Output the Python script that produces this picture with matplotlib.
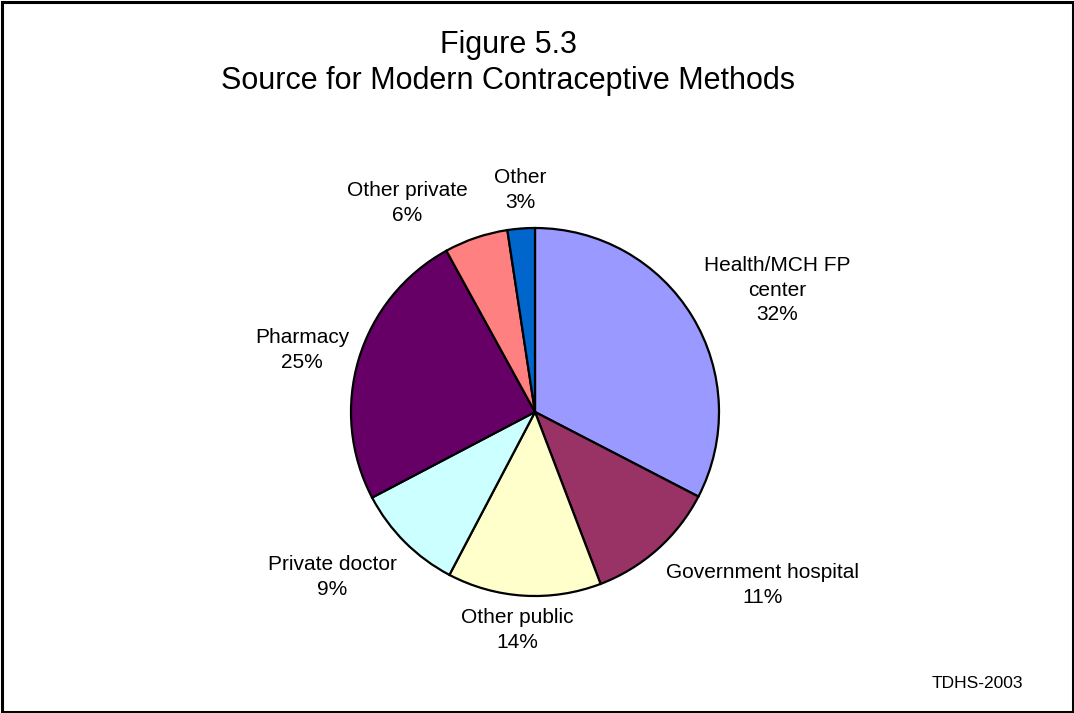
import matplotlib.pyplot as plt
from matplotlib.patches import Rectangle

plt.rcParams['font.family'] = ['Liberation Sans', 'DejaVu Sans']

# slices, clockwise from 12 o'clock
sources = ['Health/MCH FP\ncenter', 'Government hospital', 'Other public',
           'Private doctor', 'Pharmacy', 'Other private', 'Other']
shares = [32.6, 11.6, 13.5, 9.6, 24.7, 5.6, 2.4]
pct_labels = ['32%', '11%', '14%', '9%', '25%', '6%', '3%']
colors = ['#9999FF', '#993366', '#FFFFCC', '#CCFFFF', '#660066', '#FF8080', '#0066CC']

# label centres in pixels (x, y from top)
label_pos = [(777, 290), (763, 585), (517, 630), (332, 577),
             (302, 350), (407, 203), (520, 190)]

W, H = 1074, 713
fig = plt.figure(figsize=(W / 100, H / 100), dpi=100)
ax = fig.add_axes([0, 0, 1, 1])
ax.set_xlim(0, W)
ax.set_ylim(0, H)
ax.set_aspect('equal')
ax.axis('off')

ax.pie(shares, colors=colors, startangle=90, counterclock=False,
       center=(535, H - 412), radius=184,
       wedgeprops={'edgecolor': 'black', 'linewidth': 1.6})
ax.set_xlim(0, W)
ax.set_ylim(0, H)

for name, pct, (x, y) in zip(sources, pct_labels, label_pos):
    ax.text(x, H - y, name + '\n' + pct, ha='center', va='center',
            fontsize=15, linespacing=1.35)

ax.text(508, H - 63, 'Figure 5.3\nSource for Modern Contraceptive Methods',
        ha='center', va='center', fontsize=22, linespacing=1.22)
ax.text(1023, H - 684, 'TDHS-2003', ha='right', va='center', fontsize=12.5)

fig.patches.append(Rectangle((1.5, 1.5), W - 3, H - 3, transform=None,
                             fill=False, edgecolor='black', linewidth=2.2))

fig.savefig('out.png', dpi=100)
